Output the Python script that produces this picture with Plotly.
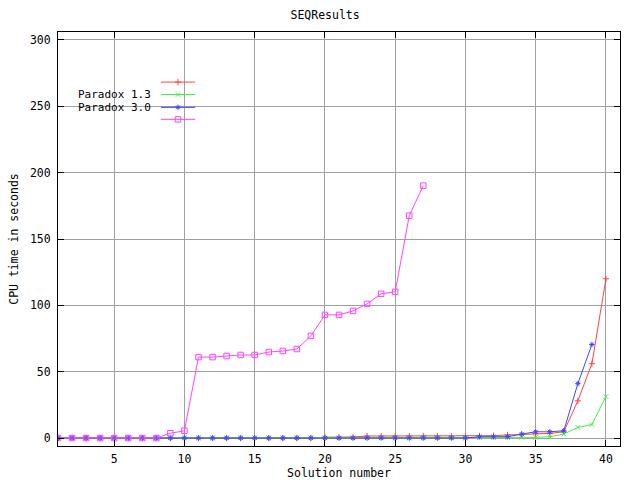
import plotly.graph_objects as go

# Series 1 (red, unlabeled)
red_x = list(range(1, 41))
red_y = [0, 0, 0, 0, 0, 0, 0, 0, 0, 0,
         0, 0, 0, 0, 0, 0, 0, 0, 0, 0.6,
         0.7, 0.8, 1.5, 1.5, 1.5, 1.5, 1.5, 1.5, 1.5, 1.5,
         1.6, 1.8, 2.3, 2.8, 3.3, 3.5, 4.7, 28, 56, 120]

# Paradox 1.3 (green)
green_x = list(range(1, 41))
green_y = [0.2] * 33 + [0.5, 0.5, 1.0, 3.0, 8.0, 10.2, 31.3]

# Paradox 3.0 (blue)
blue_x = list(range(1, 40))
blue_y = [0] * 30 + [1.0, 1.0, 1.0, 3.0, 4.7, 4.7, 5.5, 41, 70.5]

# Series 4 (magenta, unlabeled)
mag_x = list(range(1, 28))
mag_y = [0, 0, 0, 0, 0, 0, 0, 0, 3.6, 5.5,
         61, 61, 61.8, 62.6, 62.6, 64.8, 65.6, 67.1, 77, 92.8,
         92.8, 95.8, 101.1, 108.7, 110.2, 167.6, 190.2]

names = ["", "Paradox 1.3", "Paradox 3.0", ""]
colors = ["#ff4444", "#44ee44", "#4444ff", "#ff44ff"]
symbols = ["cross-thin-open", "x-thin-open", "asterisk-open", "square-open"]
msizes = [4.5, 4.5, 4.5, 5.5]

FONT = "DejaVu Sans Mono"
FS = 11.5

fig = go.Figure()
series = [(red_x, red_y), (green_x, green_y), (blue_x, blue_y), (mag_x, mag_y)]
for (sx, sy), c, s, ms in zip(series, colors, symbols, msizes):
    fig.add_trace(go.Scatter(
        x=sx, y=sy, mode="lines+markers",
        line=dict(color=c, width=1),
        marker=dict(symbol=s, size=ms, color=c, line=dict(color=c, width=1)),
        showlegend=False, xaxis="x", yaxis="y"))

# legend drawn gnuplot-style (text left of sample), in unit coords of hidden axes
leg_y = [0.879, 0.849, 0.818, 0.789]
for n, c, s, ms, ly in zip(names, colors, symbols, msizes, leg_y):
    fig.add_trace(go.Scatter(
        x=[0.183, 0.244], y=[ly, ly], mode="lines",
        line=dict(color=c, width=1),
        showlegend=False, xaxis="x2", yaxis="y2", hoverinfo="skip"))
    fig.add_trace(go.Scatter(
        x=[0.2135], y=[ly], mode="markers",
        marker=dict(symbol=s, size=ms, color=c, line=dict(color=c, width=1)),
        showlegend=False, xaxis="x2", yaxis="y2", hoverinfo="skip"))
    if n:
        fig.add_annotation(x=0.169, y=ly, xref="x2", yref="y2", text=n,
                           showarrow=False, xanchor="right", yanchor="middle",
                           font=dict(family=FONT, size=11, color="black"))

axis_common = dict(
    showline=True, linecolor="black", linewidth=1, mirror="ticks",
    ticks="inside", ticklen=6, tickcolor="black",
    showgrid=True, gridcolor="#a0a0a0", gridwidth=1, zeroline=False,
    tickfont=dict(family=FONT, size=FS, color="black"),
    automargin=False,
)

fig.update_layout(
    width=640, height=480,
    margin=dict(l=58, r=20, t=32, b=34),
    paper_bgcolor="white", plot_bgcolor="white",
    title=dict(text="SEQResults", x=0.508, xanchor="center", y=0.969, yanchor="middle",
               font=dict(family=FONT, size=FS, color="black")),
    xaxis=dict(range=[1, 41], tickvals=[5, 10, 15, 20, 25, 30, 35, 40],
               ticklabelstandoff=2,
               title=dict(text="Solution number", standoff=2,
                          font=dict(family=FONT, size=FS, color="black")),
               **axis_common),
    yaxis=dict(range=[-6, 306], tickvals=[0, 50, 100, 150, 200, 250, 300],
               ticklabelstandoff=4,
               title=dict(text="CPU time in seconds", standoff=8,
                          font=dict(family=FONT, size=FS, color="black")),
               **axis_common),
    xaxis2=dict(range=[0, 1], overlaying="x", visible=False),
    yaxis2=dict(range=[0, 1], overlaying="y", visible=False),
    showlegend=False,
)

fig.write_html("out.html", config={"displayModeBar": False},
               post_script="document.body.style.margin='0';document.body.style.padding='0';")
